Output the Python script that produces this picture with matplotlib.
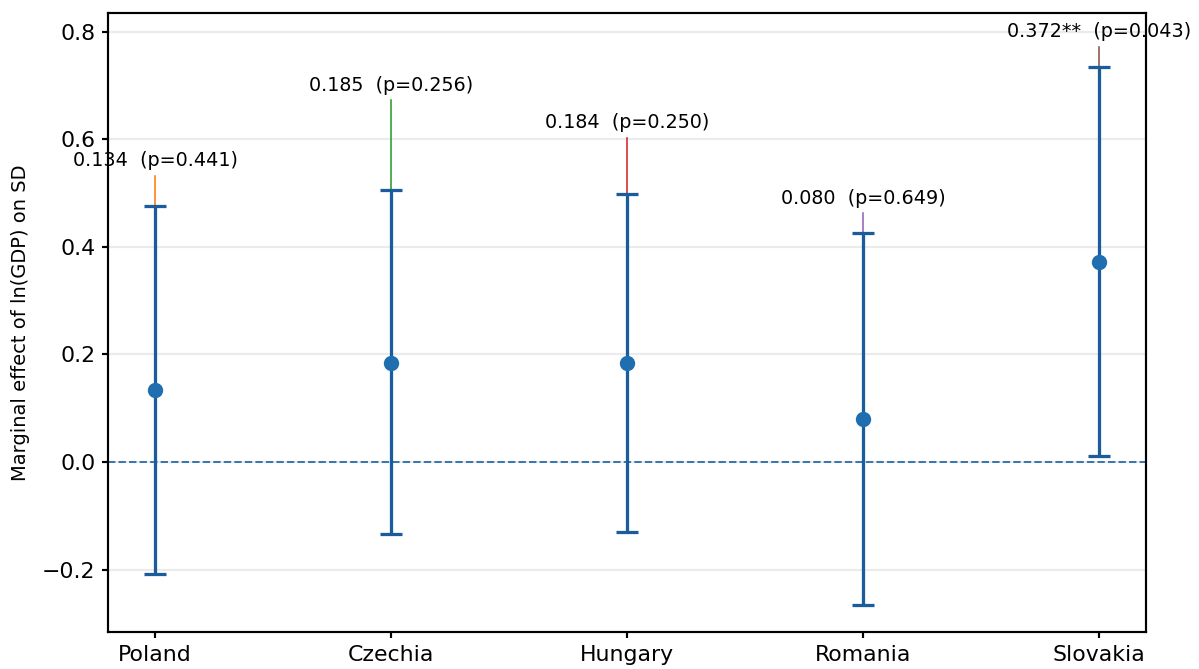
import numpy as np
import matplotlib
matplotlib.use("Agg")
import matplotlib.pyplot as plt

countries = ["Poland", "Czechia", "Hungary", "Romania", "Slovakia"]
effects = [0.134, 0.185, 0.184, 0.080, 0.372]
ci_low = [-0.208, -0.134, -0.130, -0.266, 0.011]
ci_high = [0.476, 0.506, 0.499, 0.426, 0.735]
# upper ends of the thin coloured lines above each interval
wide_high = [0.532, 0.673, 0.603, 0.463, 0.772]
pvals = [0.441, 0.256, 0.250, 0.649, 0.043]
stars = ["", "", "", "", "**"]

fig = plt.figure(figsize=(1199/130, 669/130), dpi=130)
ax = fig.add_axes([0.090, 0.055, 0.866, 0.926])

x = np.arange(len(countries))
eff = np.array(effects)
lo = np.array(ci_low)
hi = np.array(ci_high)

ax.errorbar(x, eff, yerr=[eff - lo, hi - eff], fmt="o", color="#1f6fb0",
            ecolor="#1a5c9c", elinewidth=1.8, capsize=6, capthick=1.8,
            markersize=7.5, zorder=3)

for i in range(len(countries)):
    ax.plot([x[i], x[i]], [hi[i], wide_high[i]], lw=0.9, color=f"C{i+1}", zorder=2)
    ax.text(x[i], wide_high[i] + 0.01,
            f"{effects[i]:.3f}{stars[i]}  (p={pvals[i]:.3f})",
            ha="center", va="bottom", fontsize=10.6)

ax.axhline(0, ls="--", lw=1.1, color="#3a78b0", zorder=1)
ax.grid(axis="y", color="#ebebeb", lw=1.2, zorder=0)
ax.set_axisbelow(True)
for s in ax.spines.values():
    s.set_linewidth(1.2)

ax.set_xticks(x)
ax.set_xticklabels(countries, fontsize=12.2)
ax.set_yticks([-0.2, 0.0, 0.2, 0.4, 0.6, 0.8])
ax.tick_params(axis="y", labelsize=12.2)
ax.tick_params(width=1.2)
ax.set_xlim(-0.2, 4.2)
ax.set_ylim(-0.316, 0.835)
ax.set_ylabel("Marginal effect of ln(GDP) on SD", fontsize=10.8)
ax.yaxis.set_label_coords(-0.075, 0.5)

fig.savefig("out.png", dpi=130)
